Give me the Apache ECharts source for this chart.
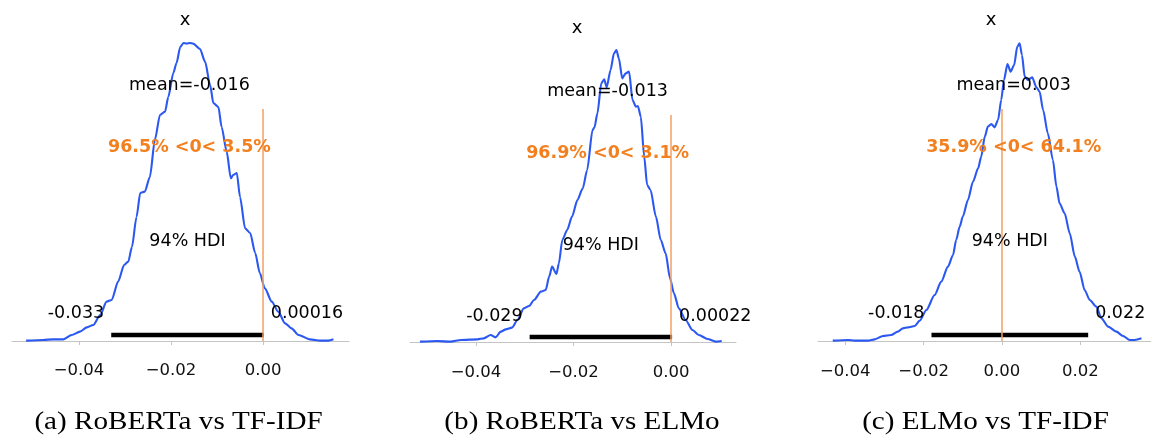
<!DOCTYPE html>
<html>
<head>
<meta charset="utf-8">
<script src="https://cdn.jsdelivr.net/npm/echarts@6/dist/echarts.min.js"></script>
<style>
html,body{margin:0;padding:0;background:#fff;}
#chart{width:1151px;height:438px;}
</style>
</head>
<body>
<div id="chart"></div>
<script>
// ---------------- data ----------------
const captions = ['(a) RoBERTa vs TF-IDF', '(b) RoBERTa vs ELMo', '(c) ELMo vs TF-IDF'];
const panelTitle = 'x';

// posterior density, panel (a) RoBERTa vs TF-IDF
const xA = [-0.0515,-0.0478,-0.0456,-0.0434,-0.0416,-0.0398,-0.0383,-0.0369,-0.0354,-0.0340,-0.0329,-0.0315,-0.0302,-0.0293,-0.0285,-0.0275,-0.0267,-0.0257,-0.0246,-0.0235,-0.0224,-0.0213,-0.0206,-0.0195,-0.0188,-0.0180,-0.0173,-0.0166,-0.0159,-0.0152,-0.0137,-0.0126,-0.0115,-0.0108,-0.0097,-0.0090,-0.0079,-0.0070,-0.0065,-0.0057,-0.0050,-0.0039,-0.0028,-0.0017,-0.0007,0.0004,0.0019,0.0033,0.0048,0.0062,0.0077,0.0102,0.0124,0.0142,0.0153];
const yA = [0.05,0.15,0.25,0.25,0.9,1.4,2.05,2.4,3.9,5.9,6.15,8.9,11.4,11.9,14.1,18.6,22.2,22.4,24.6,30.2,33.9,34.4,36.6,40.2,41.7,44.1,44.7,44.6,44.7,44.6,43.8,41.9,38.4,35.7,35.1,32.1,28.4,24.4,24.9,25.2,21.6,16.9,16.2,13.2,10.2,7.9,5.9,4.4,2.65,1.9,0.9,0.25,0.05,0.05,0.25];

// panel (b) RoBERTa vs ELMo
const xB = [-0.0515,-0.0479,-0.0452,-0.0431,-0.0397,-0.0384,-0.0370,-0.0360,-0.0349,-0.0339,-0.0326,-0.0315,-0.0302,-0.0291,-0.0281,-0.0267,-0.0257,-0.0250,-0.0244,-0.0235,-0.0230,-0.0223,-0.0213,-0.0203,-0.0192,-0.0181,-0.0172,-0.0161,-0.0157,-0.0151,-0.0143,-0.0137,-0.0132,-0.0124,-0.0117,-0.0112,-0.0107,-0.0100,-0.0093,-0.0086,-0.0079,-0.0072,-0.0068,-0.0062,-0.0055,-0.0049,-0.0042,-0.0031,-0.0021,-0.0011,-0.0002,0.0006,0.0016,0.0030,0.0044,0.0057,0.0075,0.0092,0.0104];
const yB = [0.05,0.15,0.05,0.3,0.4,0.55,1.05,0.7,1.55,1.9,2.15,3.3,5.05,5.4,6.3,7.55,7.8,9.8,11.3,10.2,11.8,15.3,16.8,18.8,21.3,23.05,25.8,31.8,32.2,34.3,38.8,39.4,38.2,40.8,43.3,43.8,42.55,39.55,40.3,40.55,36.3,35.3,35.4,33.8,27.8,23.55,22.8,18.8,15.3,13.3,9.55,7.3,5.05,3.3,1.8,1.05,0.45,0.05,0.15];

// panel (c) ELMo vs TF-IDF
const xC = [-0.0432,-0.0393,-0.0376,-0.0342,-0.0325,-0.0304,-0.0283,-0.0266,-0.0253,-0.0240,-0.0223,-0.0210,-0.0193,-0.0172,-0.0155,-0.0138,-0.0125,-0.0117,-0.0108,-0.0100,-0.0087,-0.0074,-0.0061,-0.0053,-0.0044,-0.0036,-0.0027,-0.0019,-0.0010,-0.0002,0.0005,0.0014,0.0022,0.0031,0.0039,0.0045,0.0051,0.0058,0.0066,0.0077,0.0088,0.0096,0.0105,0.0117,0.0130,0.0139,0.0147,0.0160,0.0173,0.0186,0.0198,0.0211,0.0224,0.0241,0.0254,0.0271,0.0292,0.0309,0.0326,0.0339,0.0356];
const yC = [0.05,0.15,0.05,0.05,0.25,0.75,0.9,1.4,1.9,2.05,2.25,3.05,4.65,6.9,8.9,11.15,12.9,15.15,17.15,18.65,21.15,23.9,25.9,27.65,30.65,32.15,32.55,32.05,33.15,36.15,39.15,41.55,40.4,41.4,44.15,44.65,42.9,39.65,39.15,39.55,38.05,37.4,34.65,31.15,27.15,23.15,20.65,19.15,16.15,12.65,10.4,7.65,6.15,5.15,3.4,2.15,1.4,0.75,0.15,0.15,0.4];

const means = [-0.016, -0.013, 0.003];
const hdiLow = [-0.033, -0.029, -0.018];
const hdiHigh = [0.00016, 0.00022, 0.022];
const hdiLowText = ['-0.033', '-0.029', '-0.018'];
const hdiHighText = ['0.00016', '0.00022', '0.022'];
const pctBelow = ['96.5%', '96.9%', '35.9%'];
const pctAbove = ['3.5%', '3.1%', '64.1%'];
const refVal = 0;
const hdiProb = '94% HDI';
const tickValues = [[-0.04, -0.02, 0.00], [-0.04, -0.02, 0.00], [-0.04, -0.02, 0.00, 0.02]];

// ---------------- layout ----------------
const layout = [
  { left: 12,  width: 337, top: 41, height: 315, xMin: -0.05457, xMax: 0.01869, yMin: -2.25, yMax: 45,
    titleX: 180, titleTop: 6, yMean: 38.4, yRef: 29.1, yHdiText: 15, yHdiBar: 0.9, yHdiVals: 4.2, refTop: 34.8, capX: 178.5 },
  { left: 410, width: 326, top: 42, height: 316, xMin: -0.05354, xMax: 0.01333, yMin: -2.4, yMax: 45,
    titleX: 572, titleTop: 14, yMean: 37.65, yRef: 28.35, yHdiText: 14.55, yHdiBar: 0.75, yHdiVals: 3.9, refTop: 34.05, capX: 582 },
  { left: 818, width: 333, top: 41, height: 316, xMin: -0.04697, xMax: 0.03804, yMin: -2.4, yMax: 45,
    titleX: 986, titleTop: 6, yMean: 38.4, yRef: 29.1, yHdiText: 15, yHdiBar: 0.9, yHdiVals: 4.2, refTop: 34.8, capX: 985.5 }
];

const BLUE = '#2b58f0';
const ORANGE_TXT = '#f2801f';
const ORANGE_LINE = '#f4a062';
const SANS = 'DejaVu Sans';
const TEXT_SIZE = 17.5;

const curvesX = [xA, xB, xC];
const curvesY = [yA, yB, yC];

function zip(a, b) { return a.map((v, i) => [v, b[i]]); }
function fmtTick(v) {
  const s = Math.abs(v) < 1e-12 ? '0.00' : v.toFixed(2);
  return s.replace('-', '\u2212');
}

const grids = [], xAxes = [], yAxes = [], series = [], titles = [], graphics = [];

layout.forEach((L, i) => {
  grids.push({ left: L.left, width: L.width, top: L.top, height: L.height, containLabel: false });
  xAxes.push({
    type: 'value', gridIndex: i, min: L.xMin, max: L.xMax,
    splitLine: { show: false },
    axisLine: { show: true, lineStyle: { color: '#c4c4c4', width: 1 } },
    axisTick: { show: true, length: 4, lineStyle: { color: '#c4c4c4' }, customValues: tickValues[i] },
    axisLabel: { customValues: tickValues[i], formatter: fmtTick, fontFamily: SANS, fontSize: 16.5, color: '#111', margin: 6 }
  });
  yAxes.push({ type: 'value', gridIndex: i, min: L.yMin, max: L.yMax, show: false });
  titles.push({
    text: panelTitle, left: L.titleX, top: L.titleTop, textAlign: 'center',
    textStyle: { fontFamily: SANS, fontSize: 18, fontWeight: 'normal', color: '#000' }
  });

  // density curve
  series.push({
    type: 'line', xAxisIndex: i, yAxisIndex: i, data: zip(curvesX[i], curvesY[i]),
    showSymbol: false, smooth: 0.25, smoothMonotone: 'x',
    lineStyle: { color: BLUE, width: 2.1 }, z: 2, silent: true
  });
  // HDI bar
  series.push({
    type: 'line', xAxisIndex: i, yAxisIndex: i, data: [[hdiLow[i], L.yHdiBar], [hdiHigh[i], L.yHdiBar]],
    showSymbol: false, lineStyle: { color: '#000', width: 4.5, cap: 'butt' }, z: 3, silent: true
  });
  // reference line at 0
  series.push({
    type: 'line', xAxisIndex: i, yAxisIndex: i, data: [[refVal, 0], [refVal, L.refTop]],
    showSymbol: false, lineStyle: { color: ORANGE_LINE, width: 1.5 }, z: 4, silent: true
  });
  // text annotations
  const lab = (x, y, text, extra) => ({
    value: [x, y],
    label: Object.assign({ show: true, position: 'inside', formatter: text, fontFamily: SANS, fontSize: TEXT_SIZE,
      color: '#000', opacity: 1, align: 'center', verticalAlign: 'middle', textBorderWidth: 0, textBorderColor: 'transparent',
      textShadowBlur: 0 }, extra || {})
  });
  series.push({
    type: 'scatter', xAxisIndex: i, yAxisIndex: i, symbolSize: 0, silent: true, z: 5,
    itemStyle: { opacity: 1 },
    data: [
      lab(means[i], L.yMean, 'mean=' + means[i]),
      lab(means[i], L.yRef, pctBelow[i] + ' <' + refVal + '< ' + pctAbove[i], { color: ORANGE_TXT, fontWeight: 'bold' }),
      lab((hdiLow[i] + hdiHigh[i]) / 2, L.yHdiText, hdiProb),
      lab(hdiLow[i], L.yHdiVals, hdiLowText[i], { align: 'right', offset: [-7, 0] }),
      lab(hdiHigh[i], L.yHdiVals, hdiHighText[i], { align: 'left', offset: [7, 0] })
    ]
  });

  graphics.push({
    type: 'text', x: L.capX, y: 422, scaleX: 1.12, silent: true,
    style: { text: captions[i], font: '26px "Liberation Serif"', fill: '#000',
      textAlign: 'center', textVerticalAlign: 'middle', align: 'center', verticalAlign: 'middle' }
  });
});

const chart = echarts.init(document.getElementById('chart'), null, { renderer: 'canvas' });
chart.setOption({
  backgroundColor: '#fff',
  animation: false,
  title: titles,
  grid: grids,
  xAxis: xAxes,
  yAxis: yAxes,
  series: series,
  graphic: graphics
});
</script>
</body>
</html>
